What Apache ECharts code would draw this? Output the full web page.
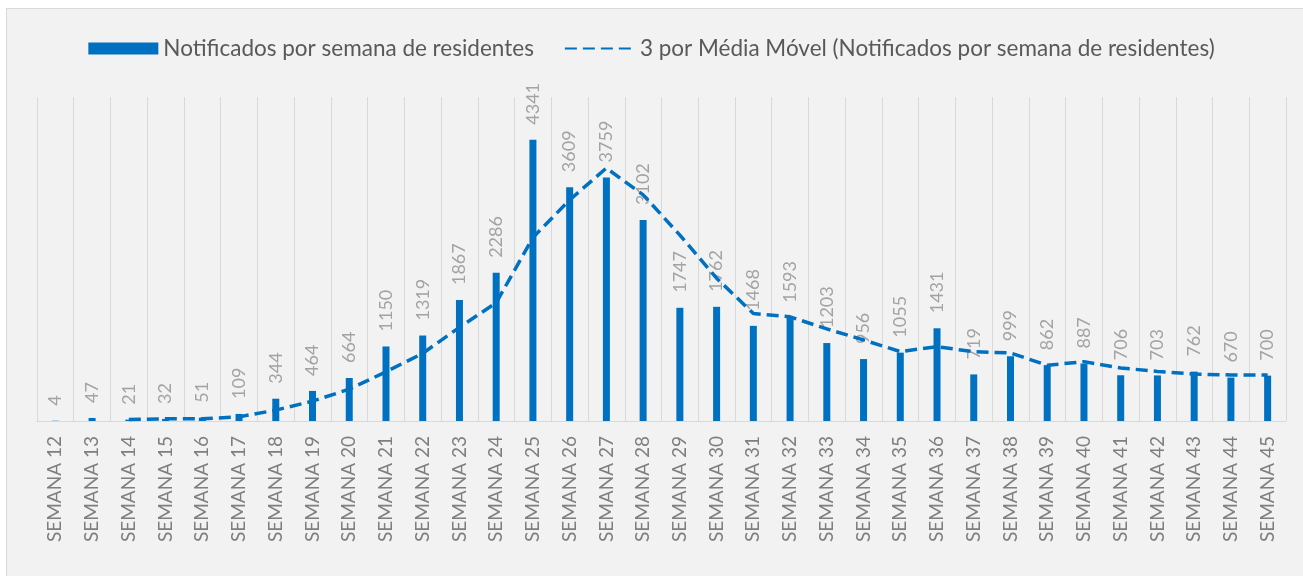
<!DOCTYPE html>
<html>
<head>
<meta charset="utf-8">
<style>
  html, body { margin: 0; padding: 0; background: #ffffff; overflow: hidden; }
  #box { position: absolute; left: 6px; top: 8px; width: 1310px; height: 580px;
         background: #f2f2f2; border: 1px solid #d9d9d9; }
  #main { position: absolute; left: 0; top: 0; width: 1303px; height: 576px; }
</style>
<script src="https://cdn.jsdelivr.net/npm/echarts@6/dist/echarts.min.js"></script>
</head>
<body>
<div id="box"></div>
<div id="main"></div>
<script>
var semanas = ['SEMANA 12', 'SEMANA 13', 'SEMANA 14', 'SEMANA 15', 'SEMANA 16', 'SEMANA 17',
  'SEMANA 18', 'SEMANA 19', 'SEMANA 20', 'SEMANA 21', 'SEMANA 22', 'SEMANA 23', 'SEMANA 24',
  'SEMANA 25', 'SEMANA 26', 'SEMANA 27', 'SEMANA 28', 'SEMANA 29', 'SEMANA 30', 'SEMANA 31',
  'SEMANA 32', 'SEMANA 33', 'SEMANA 34', 'SEMANA 35', 'SEMANA 36', 'SEMANA 37', 'SEMANA 38',
  'SEMANA 39', 'SEMANA 40', 'SEMANA 41', 'SEMANA 42', 'SEMANA 43', 'SEMANA 44', 'SEMANA 45'];
var notificados = [4, 47, 21, 32, 51, 109, 344, 464, 664, 1150, 1319, 1867, 2286, 4341, 3609,
  3759, 3102, 1747, 1762, 1468, 1593, 1203, 956, 1055, 1431, 719, 999, 862, 887, 706, 703,
  762, 670, 700];
// média móvel de 3 semanas
var mediaMovel = [null, null, 24, 33.3, 34.7, 64, 168, 305.7, 490.7, 759.3, 1044.3, 1445.3,
  1824, 2831.3, 3412, 3903, 3490, 2869.3, 2203.7, 1659, 1607.7, 1421.3, 1250.7, 1071.3,
  1147.3, 1068.3, 1049.7, 860, 916, 818.3, 765.3, 723.7, 711.7, 710.7];

var nomeBarra = 'Notificados por semana de residentes';
var nomeLinha = '3 por Média Móvel (Notificados por semana de residentes)';
var azul = '#0070c0';

var myChart = echarts.init(document.getElementById('main'));
var option = {
  backgroundColor: 'transparent',
  textStyle: { fontFamily: 'Lato' },
  animation: false,
  legend: {
    top: 32,
    left: 'center',
    itemWidth: 70,
    itemHeight: 12,
    itemGap: 30,
    textStyle: { color: '#595959', fontSize: 22.5, fontFamily: 'Lato' },
    data: [
      { name: nomeBarra, icon: 'rect' },
      { name: nomeLinha, itemStyle: { opacity: 0 } }
    ]
  },
  grid: { left: 37, right: 17, top: 97, bottom: 155 },
  xAxis: {
    type: 'category',
    data: semanas,
    axisTick: { show: false },
    axisLine: { lineStyle: { color: '#d9d9d9', width: 1 } },
    splitLine: { show: true, interval: 0, lineStyle: { color: '#d9d9d9', width: 1 } },
    axisLabel: {
      interval: 0,
      rotate: 90,
      margin: 15,
      color: '#7f7f7f',
      fontSize: 19,
      fontFamily: 'Lato'
    }
  },
  yAxis: {
    type: 'value',
    min: 0,
    max: 5000,
    show: false,
    splitLine: { show: false }
  },
  series: [
    {
      name: nomeBarra,
      type: 'bar',
      data: notificados,
      barWidth: 7,
      itemStyle: { color: azul },
      label: {
        show: true,
        position: 'top',
        rotate: 90,
        align: 'left',
        verticalAlign: 'middle',
        distance: 15,
        color: '#a3a3a3',
        fontSize: 18,
        fontFamily: 'Lato'
      }
    },
    {
      name: nomeLinha,
      type: 'line',
      data: mediaMovel,
      symbol: 'none',
      z: 5,
      lineStyle: { color: azul, width: 3.5, type: [12, 6] },
      itemStyle: { color: azul }
    }
  ]
};
myChart.setOption(option);
window.addEventListener('resize', function () {
  myChart.resize();
});
</script>
</body>
</html>
